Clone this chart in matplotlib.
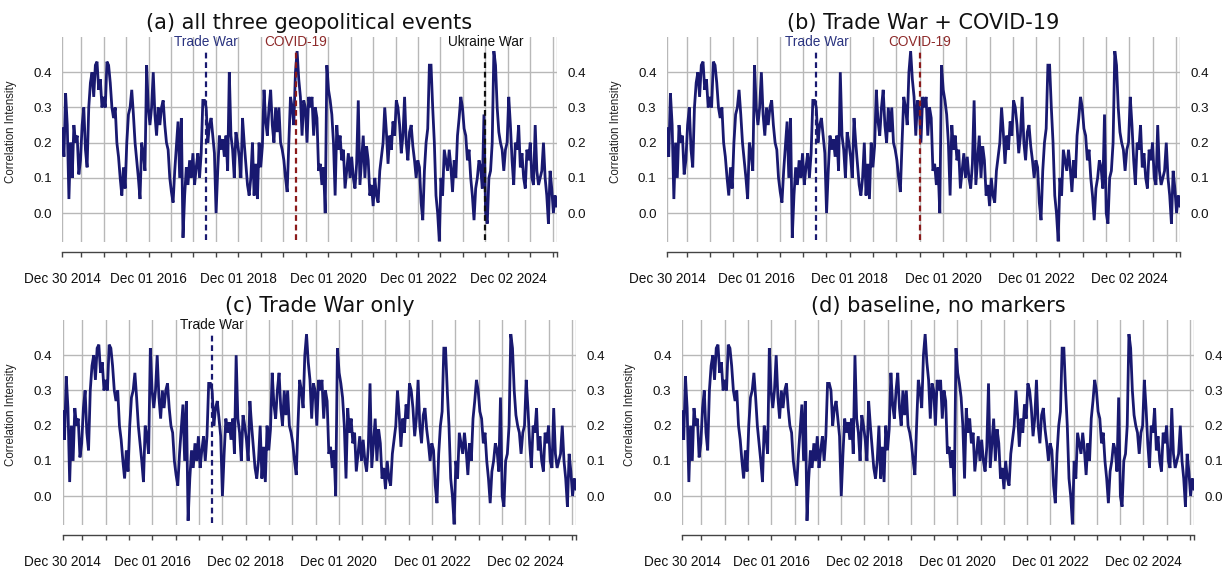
import matplotlib
matplotlib.use("Agg")
import matplotlib.pyplot as plt
import matplotlib.dates as mdates
import numpy as np
import pandas as pd

plt.rcParams['font.family'] = ['Liberation Sans', 'DejaVu Sans']

# ---- data ----
start_date = "2014-12-30"
end_date = "2026-01-02"

seg1 = [0.24, 0.16, 0.34, 0.25, 0.04, 0.20, 0.10, 0.25, 0.20, 0.22, 0.11, 0.15, 0.25, 0.30, 0.18,
        0.13, 0.30, 0.37, 0.40, 0.33, 0.42, 0.43, 0.35, 0.38, 0.30, 0.33, 0.30, 0.43, 0.42, 0.37,
        0.30, 0.27, 0.30, 0.20, 0.16, 0.10, 0.05, 0.13, 0.07, 0.20, 0.28, 0.30, 0.35, 0.28, 0.20,
        0.15, 0.10, 0.04, 0.20, 0.17, 0.12, 0.42, 0.30, 0.25, 0.30, 0.40, 0.28, 0.22, 0.30, 0.25,
        0.30, 0.32, 0.25, 0.20, 0.18, 0.10, 0.06, 0.03, 0.12, 0.19, 0.26, 0.10, 0.27, -0.07]
seg2 = [0.05, 0.13, 0.08, 0.15, 0.10, 0.17, 0.08, 0.13, 0.17, 0.10, 0.17, 0.32, 0.32, 0.30, 0.20,
        0.25, 0.27, 0.22, 0.17, 0.00, 0.12, 0.22, 0.18, 0.21, 0.16, 0.22, 0.12, 0.40, 0.22, 0.18,
        0.10, 0.23, 0.20, 0.16, 0.10, 0.27, 0.20, 0.14, 0.08, 0.05, 0.10, 0.20, 0.05, 0.14, 0.04,
        0.20, 0.13, 0.19, 0.35, 0.26, 0.22, 0.30, 0.35, 0.25, 0.20, 0.30, 0.23, 0.30, 0.20, 0.18,
        0.15, 0.10, 0.06, 0.20, 0.33, 0.30, 0.25, 0.40, 0.46, 0.38, 0.33, 0.22, 0.32]
seg3 = [0.30, 0.20, 0.33, 0.30, 0.33, 0.22, 0.30, 0.27, 0.12, 0.14, 0.08, 0.13, 0.00, 0.42, 0.35,
        0.32, 0.28, 0.20, 0.05, 0.25, 0.18, 0.22, 0.15, 0.18, 0.07, 0.12, 0.17, 0.10, 0.16, 0.10,
        0.07, 0.14, 0.32, 0.08, 0.15, 0.22, 0.10, 0.19, 0.15, 0.05, 0.08, 0.02, 0.10, 0.05, 0.03,
        0.12, 0.16, 0.20, 0.30, 0.23, 0.14, 0.22, 0.18, 0.26, 0.22, 0.32, 0.30, 0.25, 0.17, 0.22,
        0.33, 0.20, 0.15, 0.23, 0.25, 0.19, 0.15, 0.10, 0.15, 0.13, 0.03, -0.02, 0.12, 0.20, 0.24]
seg4 = [0.42, 0.42, 0.30, 0.20, 0.05, 0.00, -0.08, 0.10, 0.05, 0.18, 0.15, 0.12, 0.18, 0.13, 0.06,
        0.15, 0.10, 0.22, 0.27, 0.33, 0.30, 0.24, 0.22, 0.15, 0.18, 0.10, 0.05, -0.02, 0.07, 0.10,
        0.15, 0.13, 0.07, 0.28, 0.00, -0.03, 0.10, 0.12, 0.20, 0.46, 0.42, 0.30, 0.23, 0.20, 0.18,
        0.12, 0.18, 0.20, 0.33, 0.25, 0.15, 0.08, 0.20, 0.18, 0.25, 0.13, 0.17, 0.10, 0.07, 0.18,
        0.15, 0.20, 0.10, 0.08, 0.25, 0.12, 0.08, 0.10, 0.12, 0.20, 0.10, 0.05, -0.03, 0.12, 0.07,
        0.00, 0.05, 0.02]
values = seg1 + seg2 + seg3 + seg4

tick_dates = ["2014-12-30"] + [f"{y}-{m}-01" for y in range(2015, 2026) for m in ("06", "12")] + [end_date]
labels_ab = ["Dec 30 2014", "Dec 01 2016", "Dec 01 2018", "Dec 01 2020", "Dec 01 2022", "Dec 02 2024"]
labels_cd = ["Dec 30 2014", "Dec 01 2016", "Dec 02 2018", "Dec 01 2020", "Dec 01 2022", "Dec 02 2024"]
yticks = [0.0, 0.1, 0.2, 0.3, 0.4]

titles = ["(a) all three geopolitical events", "(b) Trade War + COVID-19",
          "(c) Trade War only", "(d) baseline, no markers"]

NAVY = "#191970"
TW_TXT = "#2a3380"
CV_TXT = "#8e2a2a"
CV_LINE = "#8b1a1a"

events = [
    [("Trade War", "2018-03-15", TW_TXT, NAVY), ("COVID-19", "2020-03-11", CV_TXT, CV_LINE),
     ("Ukraine War", "2024-06-01", "#111111", "#111111")],
    [("Trade War", "2018-03-15", TW_TXT, NAVY), ("COVID-19", "2020-06-01", CV_TXT, CV_LINE)],
    [("Trade War", "2018-03-15", "#111111", NAVY)],
    [],
]

W, H = 1222, 574
# axes rectangles in pixels: left, bottom(px from top), width, height
rects_px = [(62.3, 242, 494.4, 205), (667, 242, 513, 205),
            (62.8, 525, 513.2, 205), (682, 525, 512, 205)]
ylab_x_px = [17, 622, 17, 636]

dates = pd.date_range(start_date, end_date, periods=len(values))
xnum = mdates.date2num(dates.to_pydatetime())
tick_num = mdates.date2num(pd.to_datetime(tick_dates).to_pydatetime())

fig = plt.figure(figsize=(W / 100, H / 100), dpi=100)

for i in range(4):
    l, b, w, h = rects_px[i]
    ax = fig.add_axes([l / W, 1 - b / H, w / W, h / H])
    ax.set_axisbelow(True)
    ax.plot(xnum, values, color=NAVY, lw=2.0, solid_joinstyle="miter", zorder=3)
    ax.set_xlim(xnum[0], xnum[-1])
    ax.set_ylim(-0.082, 0.50)

    labs = labels_ab if i < 2 else labels_cd
    ticklabels = [""] * len(tick_num)
    for k, t in enumerate(labs):
        ticklabels[4 * k] = t
    ax.set_xticks(tick_num)
    ax.set_xticklabels(ticklabels)
    ax.set_yticks(yticks)
    ax.set_yticklabels([f"{v:.1f}" for v in yticks])

    ax.grid(True, color="#b8b8b8", lw=1.0)
    for s in ("top", "left", "right"):
        ax.spines[s].set_visible(False)
    ax.spines["bottom"].set_position(("outward", 7.5))
    ax.spines["bottom"].set_color("#444444")
    ax.spines["bottom"].set_linewidth(1.0)
    ax.tick_params(axis="x", direction="out", length=3.3, width=1.0, color="#444444",
                   pad=10.5, labelsize=9.8, labelcolor="#111111")
    ax.tick_params(axis="y", length=0, pad=7.5, labelsize=9.6, labelleft=True,
                   labelright=True, labelcolor="#111111")

    ax.set_ylabel("Correlation Intensity", fontsize=8.3, color="#222222")
    ax.yaxis.set_label_coords((ylab_x_px[i] - l) / w, 0.54)
    ax.set_title(titles[i], fontsize=15, family="DejaVu Sans", pad=6, color="#111111")

    for name, d, tc, lc in events[i]:
        xd = mdates.date2num(pd.Timestamp(d).to_pydatetime())
        ax.vlines(xd, -0.075, 0.46, colors=lc, lw=1.6, linestyles=(0, (2.6, 1.7)), zorder=4)
        ax.text(xd, 0.485, name, ha="center", va="center", fontsize=9.8, color=tc, zorder=5)

fig.savefig("out.png", dpi=100)
